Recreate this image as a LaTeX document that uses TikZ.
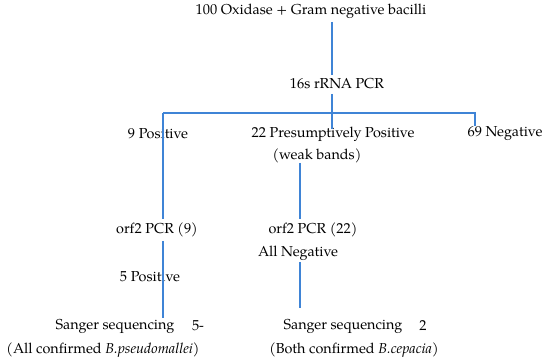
\documentclass[tikz,border=0pt]{standalone}
\usepackage{fontspec}
\setmainfont{TeX Gyre Pagella}
\definecolor{lineblue}{HTML}{3F84D6}
\tikzset{
  lbl/.style={inner sep=0pt, anchor=center, font=\fontsize{14.4}{16}\selectfont},
  link/.style={draw=lineblue, line width=1.1pt},
  thick link/.style={draw=lineblue, line width=1.9pt}
}
\begin{document}
\begin{tikzpicture}[x=1pt,y=-1pt]
\useasboundingbox (0,0) rectangle (550,363);
\node[lbl] (top) at (311,11) {100 Oxidase + Gram negative bacilli};
\node[lbl] (pcr) at (337,84) {16s rRNA PCR};
\node[lbl] (pos9) at (158,134) {9 Positive};
\node[lbl] (pres) at (333,134) {22 Presumptively Positive};
\node[lbl] (weak) at (317,156) {(weak bands)};
\node[lbl] (neg) at (505,134) {69 Negative};
\node[lbl] (orf9) at (157,230) {orf2 PCR (9)};
\node[lbl] (pos5) at (150,277) {5 Positive};
\node[lbl] (sang1) at (115,326) {Sanger sequencing};
\node[lbl] (five) at (198,326) {5-};
\node[lbl] (conf1) at (103,350) {(All confirmed \textit{B.pseudomallei)}};
\node[lbl] (orf22) at (313,230) {orf2 PCR (22)};
\node[lbl] (allneg) at (298,253) {All Negative};
\node[lbl] (sang2) at (343,326) {Sanger sequencing};
\node[lbl] (two) at (423,326) {2};
\node[lbl] (conf2) at (354,350) {\textit{(}Both confirmed \textit{B.cepacia)}};
% connector points
\coordinate (a1) at (332,22);
\coordinate (a2) at (332,75);
\coordinate (b1) at (332,94);
\coordinate (b2) at (332,129);
\coordinate (hl) at (163,113);
\coordinate (hr) at (475,113);
\coordinate (nr) at (475,126);
\coordinate (l1) at (163,219);
\coordinate (l2) at (163,241);
\coordinate (l3) at (163,318);
\coordinate (m1) at (300,163);
\coordinate (m2) at (300,219);
\coordinate (m3) at (300,262);
\coordinate (m4) at (300,308);
\draw[link] (a1) -- (a2);
\draw[link] (b1) -- (b2);
\draw[link] (hl) -- (hr) -- (nr);
\draw[thick link] (hl) -- (l1);
\draw[thick link] (l2) -- (l3);
\draw[link] (m1) -- (m2);
\draw[link] (m3) -- (m4);
\end{tikzpicture}
\end{document}
